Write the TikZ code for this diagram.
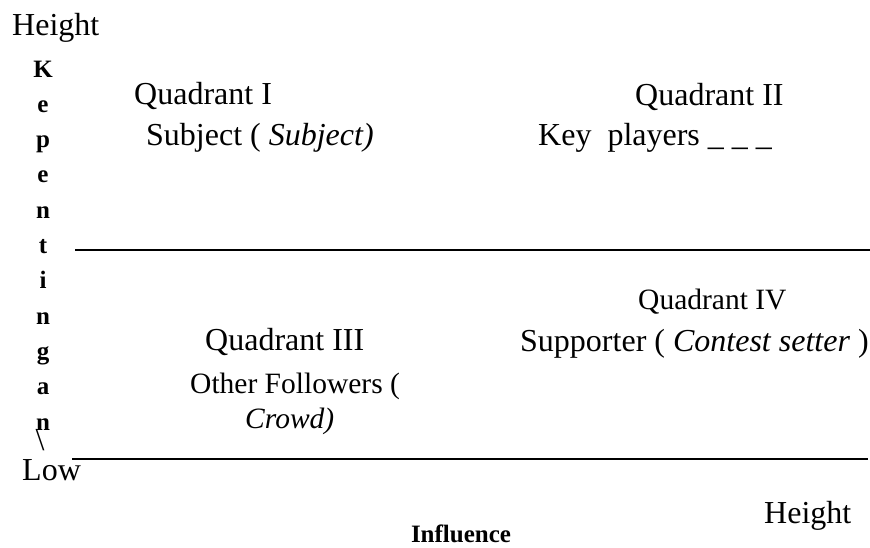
\documentclass[tikz,border=0pt]{standalone}
\usepackage{fontspec}
\setmainfont{Liberation Serif}
\usetikzlibrary{positioning}

\tikzset{
  lbl/.style = {inner sep=0pt, anchor=base west, font=\fontsize{32}{38}\selectfont},
  lblsmall/.style = {lbl, font=\fontsize{29.5}{35}\selectfont},
  axisletter/.style = {inner sep=0pt, anchor=base, font=\fontsize{25}{30}\selectfont\bfseries},
  divider/.style = {line width=2.2pt}
}

\begin{document}
\begin{tikzpicture}[x=1pt, y=-1pt]
  \useasboundingbox (0,0) rectangle (870,547);

  % vertical axis title
  \foreach \ch [count=\i from 0] in {K,e,p,e,n,t,i,n,g,a,n}
    \node[axisletter] (v\i) at (43, 77+35.3*\i) {\ch};
  \node[lbl, anchor=base] (slash) at (40,450) {\textbackslash};

  % axis ends
  \node[lbl] (hightop) at (12,35) {Height};
  \node[lbl] (low) at (22,480) {Low};
  \node[lbl] (highright) at (764,523) {Height};
  \node[lbl, anchor=base, font=\fontsize{25}{30}\selectfont\bfseries] (infl) at (461,542) {Influence};

  % quadrants
  \node[lbl] (q1) at (134,104) {Quadrant I};
  \node[lbl] (q1t) at (146,145) {Subject ( \textit{Subject)}};
  \node[lbl] (q2) at (635,105) {Quadrant II};
  \node[lbl] (q2t) at (538,145) {Key\ \ players \_ \_ \_};
  \node[lbl] (q3) at (205,350) {Quadrant III};
  \node[lblsmall] (q3t) at (190,393) {Other Followers (};
  \node[lblsmall] (q3u) at (245,428) {\textit{Crowd)}};
  \node[lblsmall] (q4) at (638,309) {Quadrant IV};
  \node[lbl] (q4t) at (520,351) {Supporter ( \textit{Contest setter} )};

  % dividing lines
  \coordinate (midL) at (75,250);
  \coordinate (midR) at (870,250);
  \coordinate (botL) at (72,459);
  \coordinate (botR) at (868,459);
  \draw[divider] (midL) -- (midR);
  \draw[divider] (botL) -- (botR);
\end{tikzpicture}
\end{document}
